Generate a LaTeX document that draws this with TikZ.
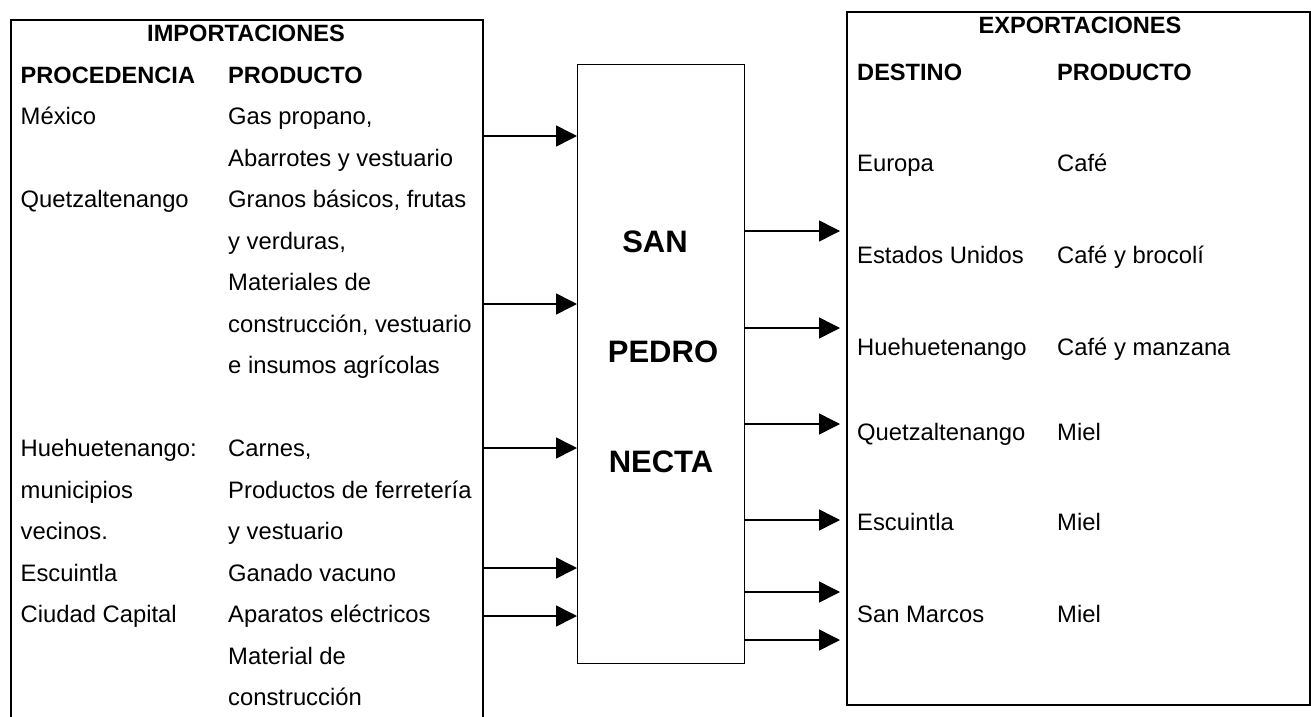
\documentclass[tikz,border=0pt]{standalone}
\usepackage{fontspec}
\setmainfont{Liberation Sans}
\usetikzlibrary{arrows.meta}

\tikzset{
  cell/.style={inner sep=0pt, anchor=base west, font=\fontsize{23.8}{28}\selectfont},
  head/.style={cell, font=\fontsize{23.6}{28}\selectfont\bfseries},
  title/.style={head, anchor=base},
  big/.style={inner sep=0pt, anchor=base, font=\fontsize{31}{36}\selectfont\bfseries},
  frame/.style={draw, line width=2.2pt, inner sep=0pt, anchor=north west},
  flow/.style={-{Triangle[length=21pt,width=21pt]}, line width=1.5pt},
}

\begin{document}
\begin{tikzpicture}[x=1pt, y=-1pt]
    \useasboundingbox (0,0) rectangle (1311,717);
    \clip (0,0) rectangle (1311,717);
    % Cajas principales
    \node[frame, minimum width=472pt, minimum height=730pt] (imp) at (10,19) {};
    \node[frame, line width=1.4pt, minimum width=167pt, minimum height=599pt] (sp) at (577,64) {};
    \node[frame, minimum width=463pt, minimum height=693pt] (exp) at (846,11) {};

    % Importaciones
    \node[title] (impt) at (246,41.5) {IMPORTACIONES};
    \node[head] (proc) at (20.5,83) {PROCEDENCIA};
    \node[head] (prodi) at (228,83) {PRODUCTO};
    \node[cell] (mex) at (20.5,124.5) {México};
    \node[cell] (mexa) at (228,124.5) {Gas propano,};
    \node[cell] (mexb) at (228,166) {Abarrotes y vestuario};
    \node[cell] (xela) at (20.5,207.5) {Quetzaltenango};
    \node[cell] (xelaa) at (228,207.5) {Granos básicos, frutas};
    \node[cell] (xelab) at (228,249) {y verduras,};
    \node[cell] (xelac) at (228,290.5) {Materiales de};
    \node[cell] (xelad) at (228,332) {construcción, vestuario};
    \node[cell] (xelae) at (228,373.5) {e insumos agrícolas};
    \node[cell] (hue) at (20.5,456.5) {Huehuetenango:};
    \node[cell] (hueb) at (20.5,498) {municipios};
    \node[cell] (huec) at (20.5,539.5) {vecinos.};
    \node[cell] (huea) at (228,456.5) {Carnes,};
    \node[cell] (hued) at (228,498) {Productos de ferretería};
    \node[cell] (huee) at (228,539.5) {y vestuario};
    \node[cell] (esc) at (20.5,581) {Escuintla};
    \node[cell] (esca) at (228,581) {Ganado vacuno};
    \node[cell] (cap) at (20.5,622.5) {Ciudad Capital};
    \node[cell] (capa) at (228,622.5) {Aparatos eléctricos};
    \node[cell] (capb) at (228,664) {Material de};
    \node[cell] (capc) at (228,705.5) {construcción};

    % Municipio
    \node[big] (san) at (655,252) {SAN};
    \node[big] (pedro) at (663,362) {PEDRO};
    \node[big] (necta) at (661,472) {NECTA};

    % Exportaciones
    \node[title] (expt) at (1080,33.5) {EXPORTACIONES};
    \node[head] (dest) at (857,80.5) {DESTINO};
    \node[head] (prode) at (1057,80.5) {PRODUCTO};
    \node[cell] (eur) at (857,171.5) {Europa};
    \node[cell] (eura) at (1057,171.5) {Café};
    \node[cell] (usa) at (857,263.5) {Estados Unidos};
    \node[cell] (usaa) at (1057,263.5) {Café y brocolí};
    \node[cell] (hh) at (857,355.5) {Huehuetenango};
    \node[cell] (hha) at (1057,355.5) {Café y manzana};
    \node[cell] (qz) at (857,440.5) {Quetzaltenango};
    \node[cell] (qza) at (1057,440.5) {Miel};
    \node[cell] (es) at (857,530.5) {Escuintla};
    \node[cell] (esa) at (1057,530.5) {Miel};
    \node[cell] (sm) at (857,622.5) {San Marcos};
    \node[cell] (sma) at (1057,622.5) {Miel};

    % Flechas de entrada
    \draw[flow] (imp.east |- 0,136) -- (sp.west |- 0,136);
    \draw[flow] (imp.east |- 0,304) -- (sp.west |- 0,304);
    \draw[flow] (imp.east |- 0,448) -- (sp.west |- 0,448);
    \draw[flow] (imp.east |- 0,568) -- (sp.west |- 0,568);
    \draw[flow] (imp.east |- 0,616) -- (sp.west |- 0,616);
    % Flechas de salida
    \draw[flow, shorten >=6pt] (sp.east |- 0,231) -- (exp.west |- 0,231);
    \draw[flow, shorten >=6pt] (sp.east |- 0,328) -- (exp.west |- 0,328);
    \draw[flow, shorten >=6pt] (sp.east |- 0,424) -- (exp.west |- 0,424);
    \draw[flow, shorten >=6pt] (sp.east |- 0,520) -- (exp.west |- 0,520);
    \draw[flow, shorten >=6pt] (sp.east |- 0,592) -- (exp.west |- 0,592);
    \draw[flow, shorten >=6pt] (sp.east |- 0,640) -- (exp.west |- 0,640);
\end{tikzpicture}
\end{document}
